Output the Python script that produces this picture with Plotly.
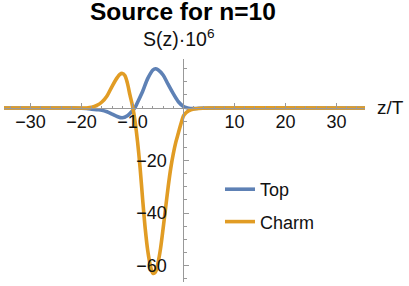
import plotly.graph_objects as go

# ---- data ----
z_top = [-36, -22, -20, -19, -18, -17, -16, -15, -14, -13, -12, -11, -10, -9.5, -9, -8, -7,
         -6, -5.5, -5, -4, -3, -2, -1, 0, 0.5, 1, 2, 3, 5, 36]
s_top = [0, 0, -0.05, -0.2, -0.4, -0.6, -0.8, -1.4, -2.3, -3.2, -3.7, -2.9, -1.0, 0.2, 2.2,
         6.4, 11.3, 14.5, 15.0, 14.6, 12.6, 9.0, 5.5, 2.4, 0.6, 0.2, -0.1, -0.2, -0.1, 0, 0]

z_charm = [-36, -22, -20, -19, -18, -17, -16, -15, -14, -13, -12.5, -12, -11.5, -11, -10.5,
           -10, -9.5, -9, -8.5, -8, -7.5, -7, -6.5, -6, -5.5, -5, -4.5, -4, -3.5, -3, -2.5,
           -2, -1.5, -1, -0.5, 0, 0.5, 1, 2, 3, 5, 36]
s_charm = [0, 0, 0, 0.05, 0.3, 1.0, 2.3, 4.6, 8.3, 11.6, 12.8, 13.2, 12.4, 9.5, 5.0,
           0.8, -5, -13, -23, -35, -46, -54.5, -60, -63, -62.5, -59, -53.5, -46, -38, -30, -23,
           -17.5, -13, -9.5, -6, -3, -1.8, -1.1, -0.4, -0.15, 0, 0]

x_ticks = [-30, -20, -10, 10, 20, 30]
y_ticks = [-60, -40, -20]

x_range = [-35.2, 35.6]
y_range = [-66.3, 18.7]

FONT = "Liberation Sans"
BLUE = "#5E81B5"
ORANGE = "#E19C24"
AXIS = "#999999"

fig = go.Figure()
fig.add_trace(go.Scatter(x=z_top, y=s_top, mode="lines", name="Top", legendgroup="a",
                         line=dict(color=BLUE, width=3.6, shape="spline", smoothing=0.9)))
fig.add_trace(go.Scatter(x=z_charm, y=s_charm, mode="lines", name="Charm", legendgroup="b",
                         line=dict(color=ORANGE, width=3.6, shape="spline", smoothing=0.9)))

x_pos = (0 - y_range[0]) / (y_range[1] - y_range[0])
y_pos = (0 - x_range[0]) / (x_range[1] - x_range[0])

fig.update_layout(
    width=409, height=286,
    margin=dict(l=4, r=44, t=59, b=4),
    paper_bgcolor="white", plot_bgcolor="white",
    font=dict(family=FONT, size=18, color="#222222"),
    showlegend=True,
    legend=dict(x=(220 - 4) / 361, y=1 - (171 - 59) / 223, xanchor="left", yanchor="top",
                traceorder="grouped", tracegroupgap=6, itemwidth=30,
                font=dict(family=FONT, size=18, color="#111111"), bgcolor="rgba(0,0,0,0)"),
    xaxis=dict(range=x_range, anchor="free", position=x_pos, showgrid=False, zeroline=False,
               showline=True, linecolor=AXIS, linewidth=1,
               tickmode="array", tickvals=x_ticks, ticks="inside", ticklen=5, tickcolor=AXIS,
               ticklabelstandoff=-3,
               minor=dict(dtick=2, tick0=0, ticks="inside", ticklen=2.5, tickcolor=AXIS),
               tickfont=dict(family=FONT, size=18, color="#111111")),
    yaxis=dict(range=y_range, anchor="free", position=y_pos, showgrid=False, zeroline=False,
               showline=True, linecolor=AXIS, linewidth=1,
               tickmode="array", tickvals=y_ticks, ticks="inside", ticklen=5, tickcolor=AXIS,
               ticklabelstandoff=13,
               minor=dict(dtick=5, tick0=0, ticks="inside", ticklen=2.5, tickcolor=AXIS),
               tickfont=dict(family=FONT, size=18, color="#111111")),
    annotations=[
        dict(text="<b>Source for n=10</b>", xref="paper", yref="paper",
             x=(182.5 - 4) / 361, y=1 + (59 - 11) / 223, xanchor="center", yanchor="middle",
             showarrow=False, font=dict(family=FONT, size=24.5, color="#000000")),
        dict(text="S(z)·10<sup>6</sup>", xref="paper", yref="paper",
             x=(179 - 4) / 361, y=1 + (59 - 38) / 223, xanchor="center", yanchor="middle",
             showarrow=False, font=dict(family=FONT, size=19.5, color="#111111")),
        dict(text="z/T", xref="paper", yref="paper",
             x=(375 - 4) / 361, y=1 - (107 - 59) / 223, xanchor="left", yanchor="middle",
             showarrow=False, font=dict(family=FONT, size=19, color="#111111")),
    ],
)

fig.write_html("out.html", config={"displayModeBar": False},
               post_script="document.body.style.margin='0';document.body.style.padding='0';")
